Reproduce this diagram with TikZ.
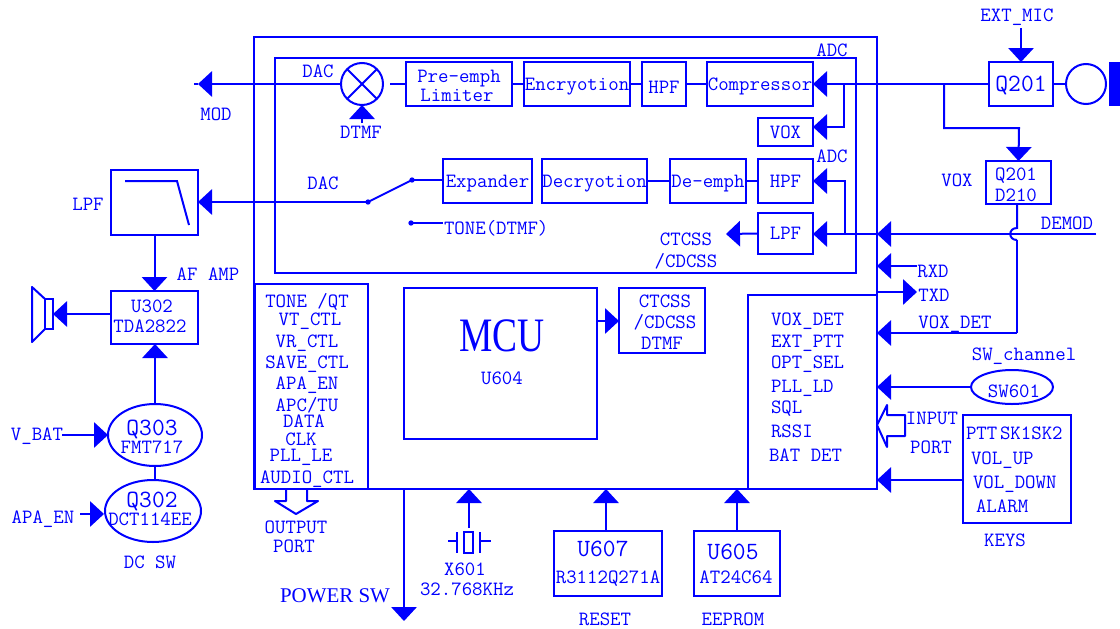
\documentclass[tikz,border=0pt]{standalone}
\usepackage{fontspec}
\usepackage{tikz}
\usetikzlibrary{arrows.meta,shapes.geometric}
\newfontfamily\serifrm{Liberation Serif}

\begin{document}
\begin{tikzpicture}[x=0.75pt,y=-0.75pt,
  wire/.style={draw=radioBlue, line width=1.5pt},
  tip/.style={wire, -{Triangle[length=10.5pt,width=19pt]}},
  lbl/.style={font=\ttfamily\fontsize{15.2}{14.2}\selectfont, text=radioBlue, inner sep=0pt, outer sep=0pt, text height=9.2pt, text depth=0pt},
  big/.style={lbl, font=\ttfamily\fontsize{18.6}{18}\selectfont, text height=11.2pt},
  bx/.style n args={2}{lbl, wire, rectangle, minimum width=#1*0.75pt, minimum height=#2*0.75pt},
  oval/.style n args={2}{wire, ellipse, inner sep=0pt, outer sep=0pt, minimum width=#1*0.75pt, minimum height=#2*0.75pt}]

\definecolor{radioBlue}{HTML}{0000FF}

\useasboundingbox (0,0) rectangle (1120,628);

% Riquadri principali
\node[bx={623}{452}] (board) at (565.5,263) {};
\node[bx={581}{215}] (dsp) at (565.5,165.5) {};
\node[bx={113}{205}] (outList) at (311.5,386.5) {};
\node[bx={193}{151}] (mcu) at (500.5,363.5) {};
\node[bx={86}{65}] (ctcBox) at (662,320.5) {};
\node[bx={129}{194}] (inList) at (812.5,392) {};

% Catena TX
\node[lbl, wire, circle, minimum size=31.5pt] (mixer) at (362,84) {};
\draw[wire] (mixer.north east) -- (mixer.south west);
\draw[wire] (mixer.north west) -- (mixer.south east);
\node[bx={106}{44}] (preEmph) at (459,84) {};
\node[lbl] (preTop) at (459,76) {Pre-emph};
\node[lbl] (preLow) at (457,95) {Limiter};
\node[bx={106}{44}] (encry) at (577,84) {Encryotion};
\node[bx={44}{44}] (hpfTx) at (664,84) {};
\node[lbl] (hpfTxLab) at (664,87) {HPF};
\node[bx={106}{44}] (compr) at (760,84) {Compressor};
\node[bx={55}{28}] (voxBox) at (785.5,132) {VOX};
\coordinate (mixOut) at (390,84);
\coordinate (modEnd) at (194,84);
\draw[wire] (mixOut) -- (preEmph.west);
\draw[wire] (preEmph.east) -- (encry.west);
\draw[wire] (encry.east) -- (hpfTx.west);
\draw[wire] (hpfTx.east) -- (compr.west);
\draw[tip] (mixer.west) -- (198,84) coordinate (modTip);
\draw[wire] (modTip) -- (modEnd);
\node[lbl] (dacTx) at (318,71) {DAC};
\node[lbl] (modLab) at (216,114) {MOD};
\node[lbl] (dtmfIn) at (361,132) {DTMF};
\coordinate (dtmfTop) at (362,123);
\draw[tip] (dtmfTop) -- (mixer.south);
\node[lbl] (adcTx) at (832,50) {ADC};

% Catena RX
\node[bx={89}{44}] (expand) at (487.5,181) {Expander};
\node[bx={105}{44}] (decry) at (594.5,181) {Decryotion};
\node[bx={76}{44}] (deEmph) at (708,181) {De-emph};
\node[bx={55}{44}] (hpfRx) at (785.5,181) {HPF};
\node[bx={55}{41}] (lpfRx) at (785.5,233.5) {LPF};
\draw[wire] (decry.east) -- (deEmph.west);
\draw[wire] (deEmph.east) -- (hpfRx.west);
\node[lbl] (adcRx) at (832,156) {ADC};
\node[lbl] (dacRx) at (323,183) {DAC};
\node[lbl, anchor=west] (toneLab) at (444,228) {TONE(DTMF)};
\node[lbl] (ctcLab) at (686,239) {CTCSS};
\node[lbl] (cdcLab) at (686,261) {/CDCSS};
\coordinate (swA) at (368,202);
\coordinate (swB) at (412,180);
\coordinate (toneDot) at (411,223);
\fill[radioBlue] (swA) circle (2pt);
\fill[radioBlue] (swB) circle (2pt);
\fill[radioBlue] (toneDot) circle (2pt);
\draw[wire] (swB) -- (expand.west |- swB);
\draw[wire] (swA) -- (swB);
\draw[wire] (toneDot) -- (443,223) coordinate (toneEnd);
\draw[tip] (lpfRx.west) -- (726,234) coordinate (ctcTip);

% Filtro e amplificatore
\node[bx={87}{65}] (lpfOut) at (154.5,202.5) {};
\coordinate (fltA) at (125,181);
\coordinate (fltB) at (177,181);
\coordinate (fltC) at (189,225);
\draw[wire] (fltA) -- (fltB) -- (fltC);
\node[lbl] (lpfLab) at (88,204) {LPF};
\draw[tip] (swA) -- (lpfOut.east |- swA);
\node[bx={87}{53}] (amp) at (154.5,317.5) {};
\node[lbl] (ampRef) at (152,306) {U302};
\node[lbl] (ampPart) at (150,326) {TDA2822};
\draw[tip] (lpfOut.south) -- (amp.north);
\node[lbl] (afLab) at (208,274) {AF AMP};
\coordinate (spkA) at (53,314);
\draw[wire] (45,299) rectangle (53,329);
\draw[wire, line join=round] (45,299) -- (32,287) -- (32,342) -- (45,329);
\draw[tip] (amp.west |- spkA) -- (spkA);

% Alimentazione
\node[oval={94}{62}] (q303) at (155,435) {};
\node[big] (q303Ref) at (152,428) {Q303};
\node[lbl] (q303Part) at (152,447) {FMT717};
\node[oval={96}{62}] (q302) at (153,511) {};
\node[big] (q302Ref) at (152,500) {Q302};
\node[lbl] (q302Part) at (150,519) {DCT114EE};
\draw[tip] (q303.north) -- (amp.south -| q303.north);
\draw[wire] (q303.south) -- (q303.south |- q302.north);
\node[lbl] (vbatLab) at (37,434) {V\_BAT};
\node[lbl] (apaLab) at (43,517) {APA\_EN};
\node[lbl] (dcLab) at (150,562) {DC SW};
\coordinate (vbatIn) at (62,435);
\coordinate (apaIn) at (80,514);
\draw[tip] (vbatIn) -- (q303.west);
\draw[tip] (apaIn) -- (104,514) coordinate (apaTip);

% Segnali di uscita
\node[lbl] (tQt) at (307,301) {TONE /QT};
\node[lbl] (tVt) at (310,319) {VT\_CTL};
\node[lbl] (tVr) at (307,341) {VR\_CTL};
\node[lbl] (tSave) at (307,362) {SAVE\_CTL};
\node[lbl] (tApa) at (307,383) {APA\_EN};
\node[lbl] (tApc) at (307,405) {APC/TU};
\node[lbl] (tData) at (304,421) {DATA};
\node[lbl] (tClk) at (301,439) {CLK};
\node[lbl] (tPll) at (301,455) {PLL\_LE};
\node[lbl] (tAudio) at (307,477) {AUDIO\_CTL};
\draw[wire, line join=round] (286,489) -- (286,501) -- (275,501) -- (296,514) -- (318,501) -- (307,501) -- (307,489);
\node[lbl] (outLab) at (296,527) {OUTPUT};
\node[lbl] (portOut) at (294,546) {PORT};

% MCU
\node[text=radioBlue, inner sep=0pt, font=\serifrm\fontsize{36}{36}\selectfont] (mcuLab) at (502,336) {\scalebox{0.78}[1]{MCU}};
\node[lbl] (mcuRef) at (502,378) {U604};
\node[lbl] (cCt) at (665,301) {CTCSS};
\node[lbl] (cCd) at (665,322) {/CDCSS};
\node[lbl] (cDt) at (662,343) {DTMF};
\coordinate (ctcIn) at (619,321);
\draw[tip] (mcu.east |- ctcIn) -- (ctcIn);

% Segnali di ingresso
\node[lbl, anchor=west] (iVox) at (771,319) {VOX\_DET};
\node[lbl, anchor=west] (iPtt) at (771,341) {EXT\_PTT};
\node[lbl, anchor=west] (iOpt) at (771,362) {OPT\_SEL};
\node[lbl, anchor=west] (iPll) at (771,386) {PLL\_LD};
\node[lbl, anchor=west] (iSql) at (771,407) {SQL};
\node[lbl, anchor=west] (iRssi) at (771,431) {RSSI};
\node[lbl, anchor=west] (iBat) at (769,455) {BAT DET};

% Microfono
\node[bx={64}{44}, big] (micAmp) at (1021,84) {Q201};
\node[lbl, wire, circle, minimum size=30pt] (mic) at (1086,84) {};
\fill[radioBlue] (1109,62) rectangle (1120,106);
\draw[wire] (micAmp.east) -- (mic.west);
\node[lbl] (extLab) at (1017,15) {EXT\_MIC};
\coordinate (extIn) at (1021,28);
\draw[tip] (extIn) -- (micAmp.north);
\coordinate (adcJoin) at (844,84);
\coordinate (voxJoin) at (944,84);
\coordinate (voxIn) at (813,127);
\draw[tip] (micAmp.west) -- (compr.east);
\draw[tip] (adcJoin) |- (voxIn);

% VOX e DEMOD
\node[bx={65}{43}] (voxDet) at (1018.5,182.5) {};
\node[lbl] (detTop) at (1016,174) {Q201};
\node[lbl] (detLow) at (1016,195) {D210};
\coordinate (voxTop) at (1019,128);
\draw[tip] (voxJoin) |- (voxTop) -- (voxDet.north);
\node[lbl] (voxLab) at (957,180) {VOX};
\node[lbl] (demLab) at (1067,223) {DEMOD};
\node[lbl] (detLab) at (955,322) {VOX\_DET};
\coordinate (demEnd) at (1096,234);
\coordinate (rxJoin) at (845,234);
\coordinate (hopTop) at (1017,228);
\coordinate (hopLow) at (1017,240);
\coordinate (detCorner) at (1017,333);
\draw[tip] (demEnd) -- (lpfRx.east |- demEnd);
\draw[tip] (demEnd) -- (board.east |- demEnd);
\draw[tip] (rxJoin) |- (hpfRx.east);
\draw[wire] (voxDet.south -| hopTop) -- (hopTop) .. controls (1008,228) and (1008,240) .. (hopLow);
\draw[wire] (hopLow) -- (detCorner);
\draw[tip] (detCorner) -- (board.east |- detCorner);

% RXD e TXD
\node[lbl] (rxdLab) at (933,271) {RXD};
\node[lbl] (txdLab) at (934,295) {TXD};
\coordinate (rxdEnd) at (917,266);
\coordinate (txdEnd) at (917,292);
\draw[tip] (rxdEnd) -- (board.east |- rxdEnd);
\draw[tip] (board.east |- txdEnd) -- (txdEnd);

% Canale e tasti
\node[oval={82}{34}] (swChan) at (1012,387) {};
\node[lbl] (swRef) at (1014,391) {SW601};
\node[lbl] (swLab) at (1024,354) {SW\_channel};
\draw[tip] (swChan.west) -- (board.east |- swChan.west);
\node[bx={108}{108}] (keys) at (1017,469) {};
\node[lbl, anchor=west] (kPtt) at (966,433) {PTT};
\node[lbl, anchor=west] (kSk) at (1000,433) {SK1SK2};
\node[lbl, anchor=west] (kUp) at (971,458) {VOL\_UP};
\node[lbl, anchor=west] (kDown) at (973,482) {VOL\_DOWN};
\node[lbl, anchor=west] (kAlarm) at (976,506) {ALARM};
\node[lbl] (keysLab) at (1005,540) {KEYS};
\coordinate (keyOut) at (963,480);
\draw[tip] (keyOut) -- (board.east |- keyOut);
\draw[wire, line join=round] (877,425) -- (887,405) -- (887,415) -- (905,415) -- (905,436) -- (887,436) -- (887,447) -- cycle;
\node[lbl] (inLab) at (932,418) {INPUT};
\node[lbl] (portIn) at (931,447) {PORT};

% Blocchi in basso
\coordinate (pwrTop) at (404,489);
\coordinate (pwrEnd) at (404,621);
\draw[tip] (pwrTop) -- (pwrEnd);
\node[text=radioBlue, inner sep=0pt, font=\serifrm\fontsize{15.7}{16}\selectfont] (pwrLab) at (335,596) {POWER SW};
\node[wire, rectangle, minimum width=6.75pt, minimum height=15.75pt, inner sep=0pt] (xtal) at (468.5,542.5) {};
\draw[wire] (457,532) -- (457,553);
\draw[wire] (480,532) -- (480,553);
\draw[wire] (448,541) -- (457,541);
\draw[wire] (480,541) -- (491,541);
\coordinate (xtalTop) at (469,528);
\draw[tip] (xtalTop) -- (board.south -| xtalTop);
\node[lbl] (xLab) at (465,569) {X601};
\node[lbl] (fLab) at (467,589) {32.768KHz};
\node[bx={108}{65}] (u607) at (608,563.5) {};
\node[big] (u607Ref) at (603,549) {U607};
\node[lbl] (u607Part) at (608,577) {R3112Q271A};
\node[lbl] (rstLab) at (605,619.5) {RESET};
\coordinate (rstUp) at (606,531);
\draw[tip] (rstUp) -- (board.south -| rstUp);
\node[bx={86}{65}] (u605) at (737,563.5) {};
\node[big] (u605Ref) at (733,552) {U605};
\node[lbl] (u605Part) at (736,577) {AT24C64};
\node[lbl] (romLab) at (733,619.5) {EEPROM};
\draw[tip] (u605.north) -- (board.south -| u605.north);

\end{tikzpicture}
\end{document}
